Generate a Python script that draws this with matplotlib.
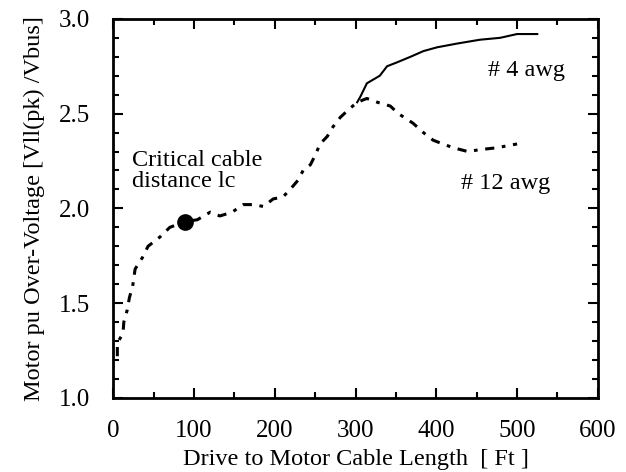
import matplotlib.pyplot as plt
from matplotlib.ticker import MultipleLocator

plt.rcParams['font.family'] = ['Liberation Serif', 'DejaVu Serif']

# 12 awg cable (dashed)
x12 = [5, 5, 12, 13, 17, 20, 24, 27, 36, 43, 58, 70, 89, 104, 120, 132, 147, 161, 173, 186, 198, 210,
       219, 229, 235, 244, 250, 256, 265, 272, 281, 291, 302, 314, 327, 343, 353, 371, 384, 396, 408,
       421, 439, 454, 475, 500]
y12 = [1.22, 1.29, 1.34, 1.40, 1.46, 1.53, 1.59, 1.68, 1.74, 1.80, 1.85, 1.90, 1.93, 1.94, 1.98, 1.96,
       1.98, 2.02, 2.02, 2.01, 2.05, 2.06, 2.10, 2.15, 2.20, 2.23, 2.28, 2.34, 2.38, 2.43, 2.48, 2.52,
       2.56, 2.58, 2.56, 2.54, 2.50, 2.45, 2.40, 2.36, 2.34, 2.32, 2.30, 2.31, 2.32, 2.34]

# 4 awg cable (solid)
x4 = [302, 306, 314, 330, 339, 351, 368, 384, 401, 426, 454, 479, 500, 525]
y4 = [2.56, 2.59, 2.66, 2.70, 2.75, 2.77, 2.80, 2.83, 2.85, 2.87, 2.89, 2.90, 2.92, 2.92]

lc_x, lc_y = 89, 1.93

fs = 17.5

fig = plt.figure(figsize=(6.26, 4.72), dpi=100)
ax = fig.add_axes([0.181, 0.157, 0.774, 0.803])

ax.plot(x12, y12, color='black', lw=2.2, linestyle=(0, (3, 2.5, 1.2, 2.5)))
ax.plot(x4, y4, color='black', lw=1.5)
ax.plot(lc_x, lc_y, 'o', color='black', markersize=11)

ax.text(23, 2.31, "Critical cable\ndistance lc", fontsize=fs, va='top', linespacing=1.05)
ax.text(464, 2.73, "# 4 awg", fontsize=fs, va='center')
ax.text(431, 2.13, "# 12 awg", fontsize=fs, va='center')

ax.set_xlim(0, 600)
ax.set_ylim(1.0, 3.0)
ax.xaxis.set_major_locator(MultipleLocator(100))
ax.xaxis.set_minor_locator(MultipleLocator(50))
ax.yaxis.set_major_locator(MultipleLocator(0.5))
ax.yaxis.set_minor_locator(MultipleLocator(0.1))
ax.yaxis.set_major_formatter(plt.FormatStrFormatter('%.1f'))
ax.tick_params(which='both', direction='in', top=True, right=True, labelsize=18, width=1.5)
ax.tick_params(which='major', length=7)
ax.tick_params(which='minor', length=4)
ax.tick_params(axis='x', pad=16)
ax.tick_params(axis='y', pad=17)
for s in ax.spines.values():
    s.set_linewidth(2)

ax.set_xlabel("Drive to Motor Cable Length  [ Ft ]", fontsize=fs, labelpad=5)
ax.set_ylabel("Motor pu Over-Voltage [Vll(pk) /Vbus]", fontsize=fs, labelpad=10)

fig.savefig("out.png", dpi=100)
